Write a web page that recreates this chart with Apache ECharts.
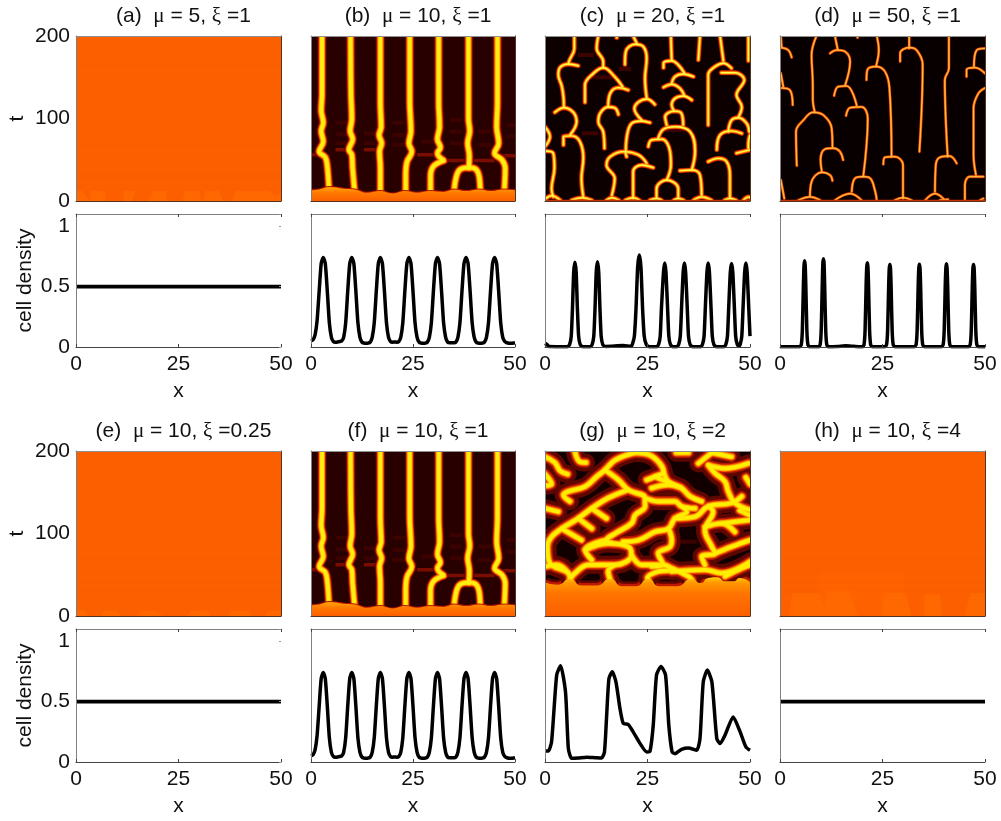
<!DOCTYPE html>
<html><head><meta charset="utf-8">
<style>html,body{margin:0;padding:0;background:#fff}#c{width:1001px;height:821px}</style>
<script src="https://cdn.jsdelivr.net/npm/echarts@6/dist/echarts.min.js"></script>
</head><body><div id="c"></div>
<script>
const titles = ['(a)  {g|μ} = 5, {g|ξ} =1','(b)  {g|μ} = 10, {g|ξ} =1','(c)  {g|μ} = 20, {g|ξ} =1','(d)  {g|μ} = 50, {g|ξ} =1',
  '(e)  {g|μ} = 10, {g|ξ} =0.25','(f)  {g|μ} = 10, {g|ξ} =1','(g)  {g|μ} = 10, {g|ξ} =2','(h)  {g|μ} = 10, {g|ξ} =4'];
const xTicks = [0,25,50];
const tTicks = [0,100,200];
const densityTicks = [0,0.5,1];

// t positions of the faint stripes in the uniform panels
const stripes = [22,38,47,61,76,88,104,117,133,149,158,171,186];
// lighter patches at the bottom of uniform panels [x,t]
const patchA = [[0,12],[1.6,12],[2.5,5],[3.4,0],[3.6,12],[7,12],[7.3,0],[11.5,0],[11.6,12],[14.5,12],[13.6,0],[17.5,0],[19,12],[22,12],[22,0],[26,0],[26.5,12],[30,12],[30.5,0],[31,0],[31.5,12],[35,12],[35.8,0],[38,0],[39,12],[47,12],[49,6],[50,10]];
const patchE = [[0,6],[2,7],[3,0],[6,0],[7,6],[10,6],[11,0],[15,0],[16,6],[20,6],[21,0],[27,0],[28,6],[32,7],[33,0],[37,0],[38,6],[42,6],[43,0],[46,0],[47,6],[50,6]];
const patchH = [[0,0],[2.2,0],[3,28],[9.6,28],[10.8,10],[11.5,30],[17,30],[19,0],[24.7,0],[25.5,28],[30.8,28],[32,0],[35,0],[35.3,26],[39,26],[39.5,0],[45,0],[46.5,28],[50,28]];
const glowH = [[9.6,0],[9.6,52],[30,52],[30.8,0]];

// bottom band of (b),(f)
const bandB = [[0,13],[2,14],[4.5,17],[8,15],[10.8,14],[13.7,10],[17,12],[20,9],[23,12],[26,10],[29.3,12],[32.5,11],[35,14],[38,12],[41.3,14],[44,12],[47.3,14],[50,13]];
const filamentsB = [
 [[2.7,200],[2.7,130],[2.5,110],[3,95],[2.5,85],[3,72],[2,60],[3.5,53],[4,42],[4.5,6]],
 [[9.7,200],[9.8,130],[10,100],[9.6,85],[10.2,75],[9.3,62],[10,56],[10.2,40],[10.8,6]],
 [[17,200],[17,120],[17.2,90],[16.7,80],[17.3,70],[16.8,60],[17,40],[17,6]],
 [[24.2,200],[24.2,120],[24.5,85],[24,70],[24.7,60],[23.5,47],[23.2,30],[23.2,6]],
 [[31.3,200],[31.3,120],[31.5,90],[31,75],[31.7,65],[31,58],[32.3,50]],
 [[32.5,49],[30,42],[29.3,30],[29.3,6]],
 [[38.6,200],[38.6,100],[38.9,85],[38.4,70],[38.8,55],[38.7,40]],
 [[35,6],[35.5,27],[36.5,38],[38.7,40.5],[40.5,38],[41.3,27],[41.5,6]],
 [[45.7,200],[45.7,120],[45.5,90],[46,70],[45,58],[46.8,50],[47.6,40],[47.3,6]]
];
const faintB = [[[6,62],[9,62]],[[13,62],[16,62]],[[0,56],[2,56]],[[26,56],[31,56]],[[33,49],[38,49]],[[39,49],[45,49]],[[47,55],[50,55]]];
const fainterB = [[[6,70],[9,70]],[[13,70],[16,70]],[[20,68],[23,68]],[[27,72],[30,72]],[[6,81],[9,81]],[[13,82],[16,82]],[[20,80],[23,80]],[[34,70],[37,70]],[[41,68],[44,68]],[[48,78],[50,78]],[[34,84],[37,84]],[[41,84],[44,84]],[[48,92],[50,92]],[[6,95],[9,95]],[[20,95],[23,95]],[[34,98],[37,98]]];

const filamentsC = [
 [[7.15,200],[7.15,185],[5.9,170],[5.7,166]],
 [[8.1,164],[5.7,166],[3.7,162],[3.25,153],[4.1,139],[4.5,126],[4.6,114]],
 [[2.4,107.5],[4.6,113],[6.9,107.5],[7.7,96],[6.1,80]],
 [[4.5,68],[4.5,78],[6.5,79],[8.5,72],[9.35,52],[8.9,27.5],[9.35,5]],
 [[0,90],[1.2,78],[0,66]],
 [[0,60.6],[2,58],[2.3,40],[1.6,15],[2,5]],
 [[13,200],[12.6,185],[14.2,169],[14.2,161.6]],
 [[9.75,119.6],[9.75,140.6],[11.8,154.7],[14.2,161.6],[17,150.7],[18.9,138.6]],
 [[20.3,134.5],[17.9,137.4],[15.9,130.5],[15.4,114.3]],
 [[17.9,105],[17,113],[15.4,114],[13.4,106],[13,96],[14.2,84],[14.5,64]],
 [[21.5,200],[22.4,191]],
 [[19.5,165.6],[19.7,181],[22,190],[24,187],[24.8,173],[24.4,148.7],[24.8,125]],
 [[26.8,117],[24.8,123.6],[22.8,120],[21.8,112],[23.6,98]],
 [[25.6,95],[23.6,97],[21.1,94],[19.9,76],[19.7,60]],
 [[17.5,198],[17.5,200]],
 [[19.9,53.7],[19.6,59]],
 [[16.3,7],[17,27.5],[15,43.6],[15.9,53.7],[19.1,59.8],[22.8,55.8],[24.8,45.7]],
 [[21.5,3],[21.5,35.6],[23.6,43.6],[26.4,40.4]],
 [[30.7,200],[30.9,171]],
 [[28.9,161.6],[28.9,167],[30.9,170],[32.5,165],[34,155]],
 [[36.2,150.7],[33.7,154],[31.7,150.7],[30.9,142.6]],
 [[28.9,137.8],[30.9,141.4],[32.9,136.6],[34,127.7]],
 [[35.8,122.4],[33.7,127.3],[31.7,124.4],[30.9,116.4],[31.5,109]],
 [[29.7,92],[29.3,102],[31.5,109],[33.3,106],[33.7,92]],
 [[27.6,76],[28.9,87],[31.7,90],[35.4,84],[36.6,60],[35.8,37.6]],
 [[25.2,66],[26,74],[28.5,75],[30.5,60],[30.7,43.6],[29.7,25.5]],
 [[27.2,3],[27.2,15],[29.7,25.5],[32.5,15],[32.5,3]],
 [[32.9,36.8],[35.8,37.6],[37.8,31.5],[38.2,7]],
 [[37.8,200],[37.4,171]],
 [[42.7,200],[43.5,170]],
 [[39.8,92],[39.8,124],[39.8,153],[41.5,163],[43.5,167],[45.5,161]],
 [[43,155.5],[46.3,155.5],[48.6,146.6],[46.7,128.5],[48,114],[47.2,102]],
 [[44.7,84],[45.5,98],[47.2,101],[49.2,94],[49.8,84]],
 [[41.9,62],[42.7,80],[45.5,85],[48,82]],
 [[49.6,200],[49.6,170]],
 [[39.8,47.7],[42.3,51.7],[44.3,47.7],[45.1,31.5],[45.1,3]],
 [[50,80],[49.6,70],[49.6,64]],
 [[46.7,58],[50,62]],
 [[0.2,3],[1.6,6.5],[3.7,1]],[[6.5,1],[9,4],[11.4,1]],[[15,1],[16.3,4],[18,1]],[[19.6,1],[21.5,4],[23,1]],
 [[25.6,1],[27.2,3],[28.4,1]],[[31.4,1],[32.5,3],[33.8,1]],[[36.2,1],[38.2,5],[40.6,1]],[[43.8,1],[45.1,3],[46.6,1]],[[48.4,1],[49.6,5],[50,4]]
];
const edgeLine = [[0,0.6],[50,0.6]];
const faintC = [[[8,177],[12,177]],[[11,150],[17,150]],[[9,82],[13,82]],[[29,86],[34,86]],[[18,160],[21,160]]];

const filamentsD = [
 [[8.9,200],[7.7,177],[8,140.6],[8,122.4],[8.5,107.5]],
 [[4.1,42.8],[3.9,84],[5.7,98],[8.1,107.5],[10.6,104],[12.6,88],[12.8,64.6]],
 [[10.2,35.6],[9.9,49.7],[11,63],[13,64],[14.6,60],[15.4,49.7]],
 [[7.3,5],[7.7,23.4],[10.2,34.7],[12.2,31.5],[12.8,24.6]],
 [[13.4,200],[14.1,183]],
 [[12.2,179],[13.8,183],[15.9,181],[17.1,169],[15.9,140.6]],
 [[13.2,127.7],[14.2,138.6],[16.3,139.4],[18.7,116]],
 [[16.1,103.4],[17.1,113],[19.9,114],[21.4,100],[20.3,29.5]],
 [[17.5,11.3],[18.3,27.5],[20.3,29.5],[22,27.5],[23.2,12],[23.6,1]],
 [[23.6,200],[24.1,183],[23.4,163]],
 [[21.1,146.7],[21.3,159],[23.4,163],[25.6,157],[26.7,136.6],[27.2,53.7]],
 [[25.2,44.4],[25.6,53],[28,53.7],[30,43.6],[30,3]],
 [[31.5,200],[31.5,185]],
 [[29.3,169],[29.3,179],[31.5,186],[33.3,183],[34.8,165],[34,59.8]],
 [[41.2,200],[41.2,161],[40.2,146.7],[40.9,53.7]],
 [[37.8,11.3],[38,43.6],[39,53],[41.4,54.5],[43.1,45.6]],
 [[50,185],[48,183],[47.3,163]],
 [[45.5,150.7],[45.5,159],[47.6,161.6],[50,154.7]],
 [[50,137],[48.4,130.5],[47.2,112],[47.2,55.8],[47.8,31.5]],
 [[45.1,1],[45.1,19.4],[46.3,29.5],[49.6,29.5]],
 [[0.2,200],[0.4,187]],
 [[0.2,186],[2,183],[2.85,174]],
 [[0.2,155],[0.8,138.6]],
 [[0.4,137],[2.4,134.5],[3.1,116.4]],
 [[0.2,25.5],[1.05,3]],
 [[18.9,198],[18.9,200]],
 [[4.5,1],[7.3,5],[9.8,1]],[[13.4,1],[17.1,9],[19.9,1]],[[28,1],[30,4],[32.1,1]],
 [[35.4,1],[37.8,9],[40.2,1]],[[39,1],[41,2]],[[48.8,1],[49.6,3]]
];

const bandG = [[0,41],[3,38],[6.1,45],[9,37],[12.5,37],[15.9,45],[19,36],[22,36],[25.2,45],[28,36],[32,36],[35.8,45],[38,40],[39.8,46],[42,47],[44,42],[46,42],[47.5,46],[50,41]];
const filamentsG = [
 [[0,193],[2.4,186],[3.7,176],[5.5,172]],
 [[7.3,199],[8.5,187],[10,186]],
 [[0,172],[1.6,160],[0,158]],
 [[22,198],[17.1,189],[14.6,177],[12.6,169],[9.8,157],[5.7,151],[4.5,147],[6.1,139]],
 [[22,198],[25.6,195],[28,185],[28.9,175],[26.8,169],[24.8,165]],
 [[28.9,175],[30.1,163],[33.3,155],[35.4,145],[38.2,139]],
 [[14.6,177],[17.9,165],[20.3,153],[24.4,143],[24.4,133],[22,122.4],[21.1,112.3],[17.1,100],[15,92],[16.5,88]],
 [[20.3,153],[15.4,143],[11.4,130.5],[8.1,118.4],[4.1,106],[1.6,96],[0.6,84],[1.2,64],[5.7,52],[6.1,44]],
 [[11.4,130.5],[15,118.4]],[[8.1,118.4],[11.4,106]],[[4.1,106],[8.9,92]],[[0,130.5],[3.25,126.5]],
 [[26.8,169],[33.3,155]],[[26,155],[30.1,159],[33,156]],
 [[24.4,143],[27.6,139],[31.7,139],[33.3,133],[36.6,130.5]],
 [[33.3,133],[34.6,126.5],[31.7,118.4],[30.1,106],[26.8,102],[22.8,92],[19,90]],
 [[30.1,106],[30.9,92],[30.5,84],[27.6,76],[28.9,62],[26,60]],
 [[31.7,118.4],[36.6,120.4],[39.8,133],[45.5,137],[48,145]],
 [[32,198],[35,198]],[[40.7,198],[37.4,185]],[[40.7,198],[45.5,193]],
 [[49.6,185],[43.9,179],[39.8,183],[41.5,173],[43.9,163],[44.7,151],[46.3,137],[50,128.5]],
 [[39.8,133],[41,126.5],[39,104],[40.7,84],[41.5,76],[38.2,72],[39,62]],
 [[39,108],[43.1,112.3],[46.3,102]],[[43.1,112.3],[50,116.4]],[[41.5,76],[45.5,84],[50,92]],
 [[15,92],[9.8,80],[11.4,68]],
 [[9.8,80],[15.4,88],[20.3,84],[21.1,74],[17.1,62],[10.6,62],[7.3,52],[6.1,44]],
 [[17.1,62],[15.4,54],[15.9,44]],
 [[21.1,74],[23.6,62],[28.9,62],[30.9,56],[27.6,54],[25,46],[25.2,44]],
 [[30.9,58],[35,48],[35.8,44]],
 [[30.9,54],[39,56],[43.1,52],[50,66]],
 [[43.9,48],[48,58],[50,62]],
 [[0,60],[2.8,62],[5.7,52]],[[49,168],[50,160]],[[47.5,128],[50,122]]
];
const faintG = [[[19,145],[22,145]],[[12,88],[16,84]],[[26,74],[29,72]],[[33,90],[37,90]],[[36,55],[34,52]]];

const densityUniform = [[0,0.5],[50,0.5]];
const densityB = [[0,.05],[.5,.06],[1,.1],[1.5,.22],[2,.46],[2.5,.69],[3,.74],[3.5,.69],[4,.46],[4.5,.2],[5,.08],[5.5,.045],[6,.04],[6.5,.042],[7,.045],[7.5,.05],[8,.08],[8.5,.2],[9,.46],[9.5,.69],[10,.74],[10.5,.69],[11,.46],[11.5,.2],[12,.08],[12.5,.04],[13,.032],[13.5,.03],[14,.032],[14.5,.04],[15,.08],[15.5,.2],[16,.46],[16.5,.69],[17,.74],[17.5,.69],[18,.46],[18.5,.2],[19,.08],[19.5,.045],[20,.04],[20.5,.042],[21,.04],[21.5,.045],[22,.08],[22.5,.2],[23,.46],[23.5,.69],[24,.74],[24.5,.69],[25,.46],[25.5,.2],[26,.08],[26.5,.04],[27,.032],[27.5,.03],[28,.032],[28.5,.04],[29,.08],[29.5,.2],[30,.46],[30.5,.69],[31,.74],[31.5,.69],[32,.46],[32.5,.2],[33,.08],[33.5,.04],[34,.035],[34.5,.035],[35,.035],[35.5,.04],[36,.08],[36.5,.2],[37,.46],[37.5,.69],[38,.74],[38.5,.69],[39,.46],[39.5,.2],[40,.08],[40.5,.04],[41,.032],[41.5,.03],[42,.032],[42.5,.04],[43,.08],[43.5,.2],[44,.46],[44.5,.69],[45,.74],[45.5,.69],[46,.46],[46.5,.2],[47,.08],[47.5,.045],[48,.035],[49,.03],[50,.035]];
const densityC = [[0,.03],[.5,.02],[1,.005],[5.5,.003],[6,.02],[6.4,.09],[6.7,.32],[7,.62],[7.3,.70],[7.6,.62],[7.9,.32],[8.2,.09],[8.6,.02],[9.2,.003],[11.1,.003],[11.5,.02],[11.9,.09],[12.2,.32],[12.5,.62],[12.8,.705],[13.1,.62],[13.4,.32],[13.7,.09],[14.1,.02],[14.7,.005],[17,.008],[19,.012],[21,.005],[21.3,.02],[21.8,.09],[22.2,.32],[22.6,.66],[23,.76],[23.4,.66],[23.8,.32],[24.2,.09],[24.7,.02],[25.4,.003],[27.3,.003],[27.7,.02],[28.1,.09],[28.4,.32],[28.9,.62],[29.2,.695],[29.5,.62],[29.9,.32],[30.2,.09],[30.6,.02],[31.2,.003],[32.2,.003],[32.6,.02],[33,.09],[33.3,.32],[33.7,.62],[34,.695],[34.3,.62],[34.7,.32],[35,.09],[35.4,.02],[36,.003],[38,.003],[38.4,.02],[38.8,.09],[39.1,.32],[39.5,.62],[39.8,.695],[40.1,.62],[40.5,.32],[40.8,.09],[41.2,.02],[41.8,.003],[43.7,.003],[44.1,.02],[44.5,.09],[44.8,.32],[45.2,.62],[45.5,.69],[45.8,.62],[46.2,.32],[46.5,.09],[46.9,.02],[47.3,.005],[47.6,.02],[48,.09],[48.3,.32],[48.7,.62],[49,.695],[49.3,.62],[49.7,.32],[50,.09]];
const densityD = [[0,.002],[4.8,.002],[5.2,.02],[5.45,.14],[5.7,.5],[5.85,.67],[6,.713],[6.15,.67],[6.3,.5],[6.55,.14],[6.8,.02],[7.2,.002],[9.4,.002],[9.8,.02],[10.05,.14],[10.3,.5],[10.45,.69],[10.6,.73],[10.75,.69],[10.9,.5],[11.15,.14],[11.4,.02],[11.8,.002],[14,.004],[16,.01],[18,.006],[20.1,.002],[20.5,.02],[20.75,.14],[21,.5],[21.15,.66],[21.3,.697],[21.45,.66],[21.6,.5],[21.85,.14],[22.1,.02],[22.5,.002],[25.6,.002],[26,.02],[26.25,.14],[26.5,.5],[26.65,.65],[26.8,.683],[26.95,.65],[27.1,.5],[27.35,.14],[27.6,.02],[28,.002],[32.8,.002],[33.2,.02],[33.45,.14],[33.7,.5],[33.85,.65],[34,.685],[34.15,.65],[34.3,.5],[34.55,.14],[34.8,.02],[35.2,.002],[39.4,.002],[39.8,.02],[40.05,.14],[40.3,.5],[40.45,.65],[40.6,.688],[40.75,.65],[40.9,.5],[41.15,.14],[41.4,.02],[41.8,.002],[46,.002],[46.4,.02],[46.65,.14],[46.9,.5],[47.05,.65],[47.2,.683],[47.35,.65],[47.5,.5],[47.75,.14],[48,.02],[48.4,.002],[50,.002]];
const densityG = [[0,.09],[.8,.09],[1.6,.166],[2.85,.72],[3.8,.796],[5,.58],[5.7,.11],[6.5,.03],[8.1,.033],[10.2,.04],[12.2,.036],[13.8,.033],[14.5,.083],[15,.36],[15.6,.69],[16.4,.746],[17.3,.663],[18.3,.44],[19.1,.318],[20.3,.31],[21.5,.249],[23.2,.152],[24.8,.083],[25.6,.088],[26.4,.304],[27.2,.719],[28.3,.79],[29.4,.719],[30.2,.304],[31,.083],[31.7,.069],[33.3,.105],[35,.116],[37,.097],[37.8,.193],[38.6,.663],[39.6,.76],[40.7,.663],[41.9,.193],[42.7,.152],[43.9,.221],[45.9,.373],[47.6,.249],[49,.124],[50,.097]];

const FONT = '"Liberation Sans", Arial, sans-serif';
const lefts = [76,311,545,780], wids = [205,204,205,205];
const rows = [{heatTop:36,lineTop:214},{heatTop:451,lineTop:629}];
const heatH = 165, lineH = 133;
const ORANGE = '#fc5f00';
const LAYERS = {
 wide:[['#5c0600',9.5],['#d42000',7.6],['#ff8a00',6],['#ffee10',4]],
 mid:[['#7a0e00',5.2],['#e83000',4.2],['#ff9000',3],['#ffff50',1.4]],
 thin:[['#9a1800',3],['#ff7000',2.2],['#ffd060',0.9]],
 net:[['#5e0600',18],['#b01600',10.5],['#f55000',7.5],['#ffb000',5.6],['#ffee00',3.8]]
};
const HEAT = [
 {base:ORANGE,patch:patchA,stripes},
 {base:'#280000',band:bandB,fil:filamentsB,lay:'wide',faint:faintB,fainter:fainterB},
 {base:'#0c0000',fil:filamentsC,lay:'mid',faint:[],fainter:faintC,edge:edgeLine},
 {base:'#080000',fil:filamentsD,lay:'thin',faint:[],fainter:[],edge:edgeLine},
 {base:ORANGE,patch:patchE,stripes},
 {base:'#280000',band:bandB,fil:filamentsB,lay:'wide',faint:faintB,fainter:fainterB},
 {base:'#120000',band:bandG,bandG:true,fil:filamentsG,lay:'net',faint:[],fainter:faintG},
 {base:ORANGE,patch:patchH,glow:glowH,stripes}
];
const DENS = [densityUniform,densityB,densityC,densityD,densityUniform,densityB,densityG,densityUniform];

const grid=[],xAxis=[],yAxis=[],series=[],title=[],masks=[];
function ln(c,w){return {show:true,onZero:false,lineStyle:{color:c,width:w}};}
function addAxes(g,isHeat,col,ymin,ymax,yint,showY,yName){
 const xi=xAxis.length, yi=yAxis.length;
 const label={show:true,fontFamily:FONT,fontSize:21,color:'#111'};
 xAxis.push({type:'value',gridIndex:g,min:0,max:50,interval:25,position:'bottom',z:40,
   axisLine:ln(isHeat?'#553322':'#444',1),splitLine:{show:false},
   axisTick:{show:!isHeat,inside:true,length:3,lineStyle:{color:'#444'}},
   axisLabel:isHeat?{show:false}:{...label,margin:7},
   name:isHeat?'':'x',nameLocation:'middle',nameGap:34,nameTextStyle:{fontFamily:FONT,fontSize:21,color:'#111'}});
 xAxis.push({type:'value',gridIndex:g,min:0,max:50,interval:25,position:'top',z:40,
   axisLine:ln(isHeat?'#909090':'#808080',1),splitLine:{show:false},
   axisTick:{show:!isHeat,inside:true,length:3,lineStyle:{color:'#444'}},axisLabel:{show:false}});
 yAxis.push({type:'value',gridIndex:g,min:ymin,max:ymax,interval:yint,position:'left',z:40,
   axisLine:ln('#808080',1),splitLine:{show:false},axisTick:{show:false},
   axisLabel:showY?{...label,margin:6,showMaxLabel:isHeat,formatter:v=>(isHeat?tTicks:densityTicks).includes(v)?String(v):''}:{show:false},
   name:showY?yName:'',nameLocation:'middle',nameGap:isHeat?48:40,nameRotate:90,nameTextStyle:{fontFamily:FONT,fontSize:21,color:'#111'}});
 yAxis.push({type:'value',gridIndex:g,min:ymin,max:ymax,interval:yint,position:'right',z:40,
   axisLine:{show:isHeat,onZero:false,lineStyle:{color:'#553322',width:1}},splitLine:{show:false},
   axisTick:{show:!isHeat&&(col===0),inside:true,length:2,lineStyle:{color:'#999'}},axisLabel:{show:false}});
 return [xi,yi];
}
function lineS(ax,data,color,width,extra,cap){
 return Object.assign({type:'line',z:3,xAxisIndex:ax[0],yAxisIndex:ax[1],data,symbol:'none',silent:true,clip:true,animation:false,
   lineStyle:{color,width,cap:cap||'butt',join:'round'}},extra||{});
}
function areaS(ax,data,fill,extra){
 return lineS(ax,data,'rgba(0,0,0,0)',0,Object.assign({z:1,areaStyle:{color:fill,opacity:1,origin:'start'}},extra||{}));
}
function maskAround(L,T,W,H){
 const m=14,s={fill:'#fff'};
 [[L-m,T-m,W+2*m,m],[L-m,T+H,W+2*m,m-2],[L-m,T,m,H],[L+W,T,m,H]].forEach(([x,y,width,height])=>
   masks.push({type:'rect',z:10,silent:true,shape:{x,y,width,height},style:s}));
}
[0,1].forEach(r=>{[0,1,2,3].forEach(c=>{
 const idx=r*4+c, L=lefts[c], R=rows[r], wid=wids[c];
 title.push({text:titles[idx],left:L+wid/2,top:R.heatTop-35,textAlign:'center',z:50,
   textStyle:{fontFamily:FONT,fontSize:21,fontWeight:'normal',color:'#111',
   rich:{g:{fontFamily:'"Liberation Serif","DejaVu Serif",serif',fontSize:21,color:'#111'}}}});
 // heat panel
 let g=grid.length; grid.push({left:L,top:R.heatTop,width:wid,height:heatH,containLabel:false});
 maskAround(L,R.heatTop,wid,heatH);
 let ax=addAxes(g,true,c,0,200,100,c===0,'t');
 const H=HEAT[idx];
 series.push(areaS(ax,[[0,200],[50,200]],H.base));
 if(H.glow) series.push(areaS(ax,H.glow,'#fe6200'));
 if(H.patch) series.push(areaS(ax,H.patch,'#ff6800'));
 if(H.stripes) H.stripes.forEach(t=>series.push(lineS(ax,[[0,t],[50,t]],'rgba(255,120,0,0.14)',1.5)));
 if(H.fainter) H.fainter.forEach(p=>series.push(lineS(ax,p,'#3c0200',4)));
 if(H.faint) H.faint.forEach(p=>series.push(lineS(ax,p,'#7a0c00',3.5)));
 if(H.band && H.bandG){
   series.push(lineS(ax,H.band,'#5e0600',10,{smooth:0.6}));
   series.push(lineS(ax,H.band,'#c01800',5,{smooth:0.6}));
 }
 if(H.fil){
   LAYERS[H.lay].forEach(([col,w])=>{
     H.fil.forEach(p=>series.push(lineS(ax,p,col,w,{smooth:0.4},'round')));
   });
 }
 if(H.edge) series.push(lineS(ax,H.edge,'#c83000',1.5));
 if(H.band){
   const grad=H.bandG
    ?{type:'linear',x:0,y:0,x2:0,y2:1,colorStops:[{offset:0,color:'#ffd000'},{offset:.14,color:'#ff9800'},{offset:.42,color:'#ff7400'},{offset:1,color:'#fc5f00'}]}
    :{type:'linear',x:0,y:0,x2:0,y2:1,colorStops:[{offset:0,color:'#ffa800'},{offset:.4,color:'#ff7a00'},{offset:1,color:'#fc5f00'}]};
   if(!H.bandG) series.push(lineS(ax,H.band,'#b81400',2,{smooth:0.4}));
   series.push(areaS(ax,H.band,grad,{smooth:H.bandG?0.6:0.4,z:5}));
 }
 // density panel
 g=grid.length; grid.push({left:L,top:R.lineTop,width:wid,height:lineH,containLabel:false});
 ax=addAxes(g,false,c,0,1.1,0.5,c===0,'cell density');
 const uniform=DENS[idx].length<=2;
 series.push(lineS(ax,DENS[idx],'#000',uniform?3.8:3.5,{smooth:uniform?false:0.2}));
});});
const chart=echarts.init(document.getElementById('c'),null,{renderer:'canvas'});
chart.setOption({animation:false,backgroundColor:'#fff',title,grid,xAxis,yAxis,series,graphic:{elements:masks}});
</script></body></html>
